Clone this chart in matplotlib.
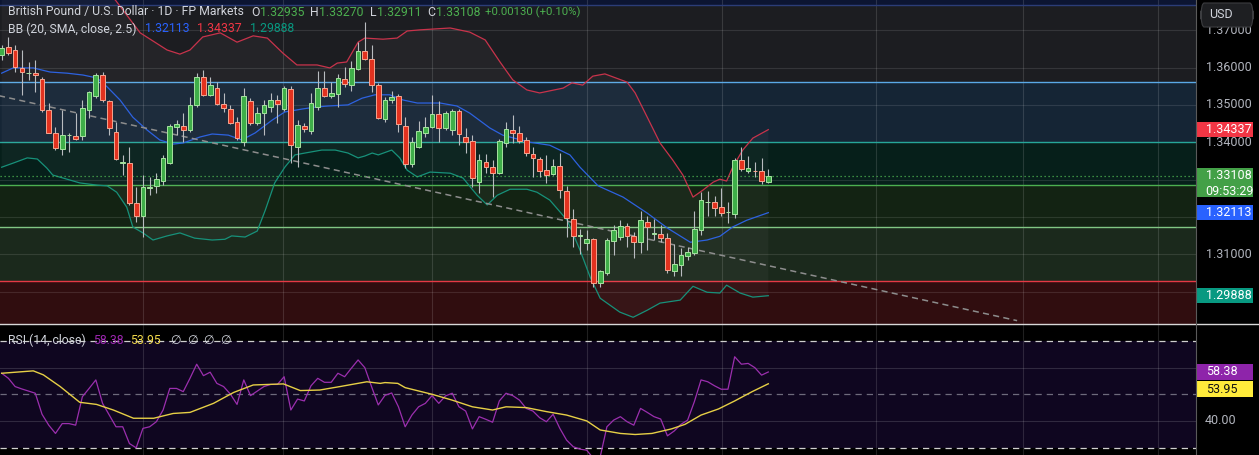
import numpy as np
import matplotlib
matplotlib.use("Agg")
import matplotlib.pyplot as plt
from matplotlib.patches import Rectangle, FancyBboxPatch
from matplotlib.lines import Line2D

plt.rcParams['font.family'] = ['Roboto', 'DejaVu Sans']

# GBP/USD daily candles
opens = [1.3634, 1.3655, 1.3647, 1.3599, 1.3585, 1.3585, 1.3569, 1.3486, 1.3425, 1.3382,
         1.3419, 1.3417, 1.3417, 1.3486, 1.3524, 1.3580, 1.3510, 1.3427, 1.3344, 1.3344,
         1.3237, 1.3202, 1.3277, 1.3283, 1.3296, 1.3344, 1.3441, 1.3443, 1.3433, 1.3500,
         1.3574, 1.3527, 1.3545, 1.3502, 1.3489, 1.3454, 1.3401, 1.3510, 1.3451, 1.3478,
         1.3494, 1.3513, 1.3489, 1.3543, 1.3387, 1.3443, 1.3430, 1.3494, 1.3545, 1.3524,
         1.3529, 1.3569, 1.3553, 1.3596, 1.3644, 1.3623, 1.3553, 1.3462, 1.3513, 1.3524,
         1.3443, 1.3341, 1.3387, 1.3425, 1.3441, 1.3476, 1.3438, 1.3433, 1.3484, 1.3414,
         1.3403, 1.3293, 1.3347, 1.3333, 1.3317, 1.3398, 1.3433, 1.3425, 1.3406, 1.3368,
         1.3355, 1.3325, 1.3315, 1.3336, 1.3269, 1.3194, 1.3149, 1.3130, 1.3141, 1.3023,
         1.3049, 1.3135, 1.3146, 1.3175, 1.3149, 1.3133, 1.3186, 1.3154, 1.3154, 1.3143,
         1.3055, 1.3071, 1.3095, 1.3103, 1.3165, 1.3240, 1.3240, 1.3226, 1.3213, 1.3207,
         1.3352, 1.3323, 1.3323, 1.3323, 1.32935]
highs = [1.3661, 1.3682, 1.3661, 1.3647, 1.3615, 1.3620, 1.3574, 1.3505, 1.3441, 1.3486,
         1.3425, 1.3478, 1.3513, 1.3537, 1.3585, 1.3588, 1.3513, 1.3454, 1.3366, 1.3387,
         1.3280, 1.3312, 1.3307, 1.3317, 1.3366, 1.3449, 1.3459, 1.3478, 1.3521, 1.3585,
         1.3593, 1.3574, 1.3561, 1.3532, 1.3500, 1.3467, 1.3545, 1.3518, 1.3494, 1.3513,
         1.3532, 1.3527, 1.3551, 1.3551, 1.3459, 1.3451, 1.3532, 1.3591, 1.3591, 1.3561,
         1.3583, 1.3601, 1.3617, 1.3668, 1.3722, 1.3661, 1.3559, 1.3521, 1.3537, 1.3529,
         1.3467, 1.3414, 1.3457, 1.3467, 1.3527, 1.3510, 1.3484, 1.3489, 1.3489, 1.3438,
         1.3419, 1.3368, 1.3368, 1.3352, 1.3409, 1.3454, 1.3473, 1.3443, 1.3414, 1.3387,
         1.3360, 1.3366, 1.3355, 1.3371, 1.3283, 1.3221, 1.3167, 1.3165, 1.3143, 1.3057,
         1.3143, 1.3178, 1.3191, 1.3183, 1.3159, 1.3215, 1.3202, 1.3194, 1.3178, 1.3157,
         1.3127, 1.3116, 1.3119, 1.3215, 1.3267, 1.3269, 1.3256, 1.3277, 1.3240, 1.3358,
         1.3387, 1.3363, 1.3347, 1.3358, 1.33270]
lows = [1.3620, 1.3634, 1.3588, 1.3527, 1.3567, 1.3535, 1.3481, 1.3424, 1.3379, 1.3366,
        1.3374, 1.3406, 1.3406, 1.3465, 1.3518, 1.3508, 1.3419, 1.3352, 1.3312, 1.3232,
        1.3186, 1.3146, 1.3258, 1.3264, 1.3285, 1.3342, 1.3419, 1.3401, 1.3427, 1.3494,
        1.3524, 1.3524, 1.3500, 1.3481, 1.3449, 1.3406, 1.3390, 1.3446, 1.3446, 1.3419,
        1.3481, 1.3451, 1.3484, 1.3344, 1.3333, 1.3427, 1.3422, 1.3486, 1.3521, 1.3518,
        1.3494, 1.3548, 1.3537, 1.3593, 1.3620, 1.3535, 1.3462, 1.3454, 1.3505, 1.3427,
        1.3331, 1.3333, 1.3384, 1.3414, 1.3438, 1.3401, 1.3433, 1.3419, 1.3392, 1.3371,
        1.3280, 1.3264, 1.3317, 1.3253, 1.3315, 1.3387, 1.3398, 1.3398, 1.3363, 1.3307,
        1.3307, 1.3291, 1.3312, 1.3250, 1.3146, 1.3119, 1.3100, 1.3111, 1.3012, 1.3012,
        1.3044, 1.3098, 1.3138, 1.3119, 1.3090, 1.3103, 1.3111, 1.3138, 1.3133, 1.3049,
        1.3041, 1.3041, 1.3084, 1.3098, 1.3151, 1.3202, 1.3202, 1.3202, 1.3183, 1.3197,
        1.3323, 1.3317, 1.3307, 1.3288, 1.32911]
closes = [1.3653, 1.3639, 1.3601, 1.3588, 1.3586, 1.3580, 1.3486, 1.3425, 1.3384, 1.3419,
          1.3420, 1.3409, 1.3492, 1.3535, 1.3580, 1.3513, 1.3438, 1.3355, 1.3347, 1.3237,
          1.3202, 1.3280, 1.3280, 1.3301, 1.3358, 1.3443, 1.3449, 1.3433, 1.3500, 1.3574,
          1.3527, 1.3553, 1.3502, 1.3492, 1.3451, 1.3411, 1.3524, 1.3451, 1.3478, 1.3500,
          1.3513, 1.3502, 1.3545, 1.3392, 1.3446, 1.3435, 1.3505, 1.3545, 1.3524, 1.3532,
          1.3572, 1.3556, 1.3599, 1.3644, 1.3623, 1.3553, 1.3465, 1.3513, 1.3521, 1.3449,
          1.3341, 1.3401, 1.3430, 1.3441, 1.3476, 1.3438, 1.3478, 1.3484, 1.3422, 1.3401,
          1.3304, 1.3352, 1.3333, 1.3317, 1.3403, 1.3435, 1.3425, 1.3403, 1.3371, 1.3358,
          1.3323, 1.3312, 1.3336, 1.3272, 1.3197, 1.3149, 1.3151, 1.3141, 1.3023, 1.3055,
          1.3138, 1.3165, 1.3175, 1.3149, 1.3133, 1.3191, 1.3173, 1.3156, 1.3143, 1.3057,
          1.3073, 1.3098, 1.3105, 1.3167, 1.3245, 1.3241, 1.3224, 1.3210, 1.3214, 1.3352,
          1.3328, 1.3331, 1.3322, 1.3296, 1.33108]

# Bollinger bands (20, 2.5) read as (bar index, price) points
bb_up_x = [0, 8, 14, 16.9, 20.6, 24.6, 26.5, 28.0, 29.9, 32.5, 35.0, 37.4, 39.5, 41.8, 43.9,
           46.9, 48.8, 49.9, 51.3, 53.0, 54.0, 56.7, 58.8, 60.3, 62.2, 66.7, 69.6, 71.9, 74.1,
           76.0, 78.1, 80.0, 83.5, 84.8, 86.4, 87.9, 89.7, 93.0, 94.2, 96.0, 97.9, 99.8, 101.3,
           102.8, 104.3, 105.8, 106.8, 107.8, 108.7, 110.2, 111.7, 114]
bb_up_y = [1.3840, 1.3850, 1.3815, 1.3781, 1.3693, 1.3647, 1.3636, 1.3647, 1.3682, 1.3693,
           1.3668, 1.3685, 1.3679, 1.3639, 1.3607, 1.3607, 1.3599, 1.3612, 1.3615, 1.3668,
           1.3679, 1.3676, 1.3679, 1.3698, 1.3701, 1.3706, 1.3695, 1.3674, 1.3615, 1.3567,
           1.3540, 1.3532, 1.3545, 1.3559, 1.3553, 1.3577, 1.3583, 1.3561, 1.3532, 1.3467,
           1.3398, 1.3352, 1.3312, 1.3253, 1.3272, 1.3293, 1.3301, 1.3296, 1.3333, 1.3379,
           1.3411, 1.34337]
bb_mid_x = [0, 1.7, 4.7, 7.2, 9.7, 12.1, 14.2, 15.7, 17.6, 19.5, 21.6, 23.5, 25.5, 27.0, 29.5,
            31.3, 33.7, 35.7, 37.7, 40.2, 42.1, 44.7, 46.6, 48.5, 51.5, 53.6, 55.5, 57.7, 59.7,
            61.8, 65.2, 67.7, 69.6, 72.6, 74.5, 78.5, 81.5, 84.5, 86.0, 88.7, 92.4, 96.0, 99.0,
            102.4, 104.9, 106.8, 108.7, 110.8, 114]
bb_mid_y = [1.3585, 1.3599, 1.3599, 1.3588, 1.3585, 1.3580, 1.3572, 1.3548, 1.3513, 1.3467,
            1.3433, 1.3406, 1.3395, 1.3398, 1.3414, 1.3422, 1.3419, 1.3406, 1.3425, 1.3459,
            1.3481, 1.3489, 1.3494, 1.3497, 1.3500, 1.3518, 1.3527, 1.3527, 1.3513, 1.3505,
            1.3505, 1.3497, 1.3478, 1.3438, 1.3419, 1.3400, 1.3392, 1.3366, 1.3333, 1.3283,
            1.3253, 1.3210, 1.3170, 1.3132, 1.3138, 1.3148, 1.3173, 1.3191, 1.32113]
bb_lo_x = [0, 1.7, 3.8, 5.3, 6.7, 7.6, 9.7, 11.6, 14.2, 15.7, 17.1, 18.6, 19.5, 21.0, 22.5,
           24.6, 26.5, 28.7, 31.3, 33.2, 34.2, 36.2, 38.0, 39.2, 40.6, 42.1, 43.6, 45.1, 47.6,
           49.6, 51.5, 53.0, 54.0, 55.1, 56.0, 58.0, 59.2, 60.3, 61.8, 63.7, 66.7, 68.6, 70.7,
           72.2, 73.7, 75.6, 78.1, 79.6, 81.5, 84.1, 86.0, 87.5, 89.0, 91.9, 93.9, 96.0, 97.9,
           100.9, 102.8, 104.9, 106.8, 107.8, 109.8, 111.7, 114]
bb_lo_y = [1.3333, 1.3344, 1.3358, 1.3355, 1.3331, 1.3312, 1.3301, 1.3291, 1.3285, 1.3283,
           1.3266, 1.3226, 1.3173, 1.3157, 1.3138, 1.3149, 1.3157, 1.3143, 1.3138, 1.3140,
           1.3149, 1.3146, 1.3162, 1.3218, 1.3291, 1.3333, 1.3366, 1.3371, 1.3379, 1.3379,
           1.3371, 1.3358, 1.3363, 1.3371, 1.3366, 1.3379, 1.3358, 1.3325, 1.3307, 1.3320,
           1.3317, 1.3304, 1.3258, 1.3232, 1.3258, 1.3274, 1.3274, 1.3266, 1.3245, 1.3191,
           1.3111, 1.3039, 1.2982, 1.2945, 1.2931, 1.2950, 1.2969, 1.2977, 1.3014, 1.2998,
           1.2996, 1.3017, 1.2996, 1.2985, 1.29888]

# RSI(14) and its moving average
rsi = [57.9, 56.0, 52.9, 52.0, 51.2, 50.4, 42.5, 38.4, 35.3, 39.0,
       39.0, 38.4, 49.1, 52.2, 55.4, 46.6, 42.2, 37.8, 37.8, 31.5,
       29.9, 37.2, 37.8, 39.7, 44.1, 52.2, 52.2, 51.0, 56.0, 61.3,
       57.0, 58.3, 54.1, 52.9, 50.1, 46.2, 55.4, 49.5, 51.2, 52.9,
       53.7, 53.7, 56.6, 44.1, 48.2, 47.5, 53.2, 56.0, 54.5, 54.5,
       57.9, 56.6, 59.8, 62.9, 60.0, 52.9, 46.0, 49.6, 50.5, 45.3,
       37.8, 42.2, 45.3, 46.6, 49.5, 46.6, 49.4, 50.4, 45.3, 43.7,
       37.0, 41.6, 40.6, 39.5, 47.5, 50.4, 49.5, 47.8, 44.7, 43.7,
       41.2, 39.7, 42.5, 37.2, 32.8, 30.3, 29.4, 29.0, 25.9, 26.5,
       37.8, 40.3, 41.6, 39.7, 38.4, 44.7, 43.2, 41.6, 40.7, 34.4,
       36.2, 38.7, 40.3, 47.2, 55.4, 54.7, 53.2, 51.9, 51.9, 64.1,
       61.3, 61.6, 60.0, 57.2, 58.38]
rsi_ma_x = [0, 4.7, 6.2, 8.7, 11.6, 14.1, 16.6, 19.6, 22.6, 25.5, 28, 31.5, 34.5, 37.4, 41.9,
            44.4, 47.3, 50.3, 54.3, 56.3, 57, 58.9, 60, 64, 67, 70, 73, 75, 78, 81, 84, 87,
            89, 92, 94.2, 96.7, 99.6, 101.6, 104, 106.6, 109, 111.6, 114]
rsi_ma_y = [57.9, 58.8, 57.3, 52.9, 47.0, 46.2, 44.1, 41.0, 41.0, 42.8, 43.2, 46.6, 50.7, 53.5,
            53.9, 51.4, 51.6, 52.9, 54.7, 54.1, 54.4, 54.1, 52.5, 50.0, 47.8, 45.3, 44.1, 45.3,
            45.0, 43.5, 42.2, 40.0, 36.6, 35.3, 34.9, 35.3, 37.0, 38.7, 42.2, 44.5, 47.5, 51.0,
            53.95]

# drawn levels (price zones) and trend line
levels = [1.3028, 1.3172, 1.3285, 1.3400, 1.3561, 1.3768]
level_colors = ['#e53945', '#81c784', '#4caf50', '#26a69a', '#5aa9e6', '#2b3d78']
zone_colors = ['#300d0f', '#1b291c', '#132313', '#061f1a', '#152535', '#1c1d21', '#0c1532']
trend_x = [-1, 151]
trend_y = [1.3527, 1.2922]
month_starts = [21.0, 41.8, 64.0, 87.0, 107.1, 130.0, 151.9, 172.0]
price_ticks = [1.30, 1.31, 1.32, 1.33, 1.34, 1.35, 1.36, 1.37]
rsi_ticks = [40, 60]
countdown = "09:53:29"

W, H = 1259, 455
split = 131
plot_w = 1196
fig = plt.figure(figsize=(W / 100, H / 100), dpi=100)
fig.patch.set_facecolor('black')
ax = fig.add_axes([0, split / H, plot_w / W, 1 - split / H])
axr = fig.add_axes([plot_w / W, split / H, 1 - plot_w / W, 1 - split / H])
ax2 = fig.add_axes([0, 0, plot_w / W, split / H])
ax2r = fig.add_axes([plot_w / W, 0, 1 - plot_w / W, split / H])
for a in (ax, axr, ax2, ax2r):
    a.set_xticks([])
    a.set_yticks([])
    for s in a.spines.values():
        s.set_visible(False)
    a.set_facecolor('black')

ymin, ymax = 1.2913, 1.3781
xmin, xmax = -0.25, 177.6
ax.set_xlim(xmin, xmax)
ax.set_ylim(ymin, ymax)
axr.set_xlim(0, W - plot_w)
axr.set_ylim(ymin, ymax)
px = (ymax - ymin) / (H - split)   # price per pixel

# zones
bounds = [1.28] + levels + [1.40]
for i, zc in enumerate(zone_colors):
    ax.axhspan(bounds[i], bounds[i + 1], color=zc, lw=0, zorder=0)
for lv, lc in zip(levels, level_colors):
    ax.axhline(lv, color=lc, lw=1.0, zorder=2)

for p in price_ticks:
    ax.axhline(p, color='white', alpha=0.11, lw=0.8, zorder=1)
for m in month_starts:
    ax.axvline(m, color='white', alpha=0.13, lw=0.8, zorder=1)

# bollinger fill + lines
poly_x = list(bb_up_x) + list(bb_lo_x[::-1])
poly_y = list(bb_up_y) + list(bb_lo_y[::-1])
ax.fill(poly_x, poly_y, color='white', alpha=0.035, lw=0, zorder=2)
ax.plot(bb_up_x, bb_up_y, color='#c8334b', lw=0.9, zorder=3)
ax.plot(bb_mid_x, bb_mid_y, color='#2d62e0', lw=0.9, zorder=3)
ax.plot(bb_lo_x, bb_lo_y, color='#17917a', lw=0.9, zorder=3)

ax.plot(trend_x, trend_y, color='#8d8d8d', lw=1.1, ls=(0, (4, 2.8)), zorder=3)
ax.axhline(closes[-1], color='#4caf50', lw=0.9, ls=(0, (1, 2.2)), zorder=4)

# candles
idx = np.arange(len(closes))
o, hi, lo, c = map(np.array, (opens, highs, lows, closes))
up = c >= o
ax.vlines(idx, lo, hi, color='#b9bcc0', lw=0.8, zorder=5)
body = np.maximum(np.abs(c - o), 0.00008)
bottom = np.minimum(o, c)
ax.bar(idx[up], body[up], bottom=bottom[up], width=0.7, color='#3fae49',
       edgecolor='#a6e3a0', lw=0.7, zorder=6)
ax.bar(idx[~up], body[~up], bottom=bottom[~up], width=0.7, color='#e2321f',
       edgecolor='#f6a48f', lw=0.7, zorder=6)

FS = 9.0


def tag(a, y, hgt, col, txt, tcol='white'):
    a.add_patch(Rectangle((1, y - hgt / 2), 56, hgt, color=col, lw=0, zorder=5))
    a.text(10, y, txt, color=tcol, fontsize=FS, va='center', ha='left', zorder=6)


# price axis: tags, then labels not buried under a tag
last = closes[-1]
main_tags = [(bb_up_y[-1], 15 * px, '#f23645'), (bb_mid_y[-1], 15 * px, '#2962ff'),
             (bb_lo_y[-1], 15 * px, '#089981')]
for y, hh, col in main_tags:
    tag(axr, y, hh, col, f"{y:.5f}")
axr.add_patch(Rectangle((1, last - 21.5 * px), 56, 29 * px, color='#43a047', lw=0, zorder=5))
axr.text(10, last, f"{last:.5f}", color='white', fontsize=FS, va='center', ha='left', zorder=6)
axr.text(9, last - 15.5 * px, countdown, color='white', fontsize=FS, va='center', ha='left', zorder=6)
covered = [(y - hh / 2 - 2 * px, y + hh / 2 + 2 * px) for y, hh, _ in main_tags]
covered.append((last - 21.5 * px, last + 7.5 * px))
for p in price_ticks:
    if any(lo_ - 3 * px < p < hi_ + 3 * px for lo_, hi_ in covered):
        continue
    axr.text(10, p, f"{p:.5f}", color='#b2b5be', fontsize=FS, va='center', ha='left', zorder=2)

axr.add_patch(FancyBboxPatch((5 / 63, 1 - 27 / 324), 52 / 63, 24 / 324,
                             boxstyle="round,pad=0,rounding_size=0.05", transform=axr.transAxes,
                             facecolor='#1e1f22', edgecolor='#3c3d40', lw=0.8, zorder=7))
axr.text(13 / 63, 1 - 15 / 324, "USD", transform=axr.transAxes, color='#d1d4dc',
         fontsize=FS, va='center', ha='left', zorder=8)

# RSI pane
rmin, rmax = 27.2, 76.4
ax2.set_xlim(xmin, xmax)
ax2.set_ylim(rmin, rmax)
ax2r.set_xlim(0, W - plot_w)
ax2r.set_ylim(rmin, rmax)
rpx = (rmax - rmin) / split
ax2.axhspan(30, 70, color='#0f0620', lw=0, zorder=0)
for r in rsi_ticks:
    ax2.axhline(r, color='white', alpha=0.14, lw=0.8, zorder=1)
for m in month_starts:
    ax2.axvline(m, color='white', alpha=0.13, lw=0.8, zorder=1)
ax2.axhline(70, color='#cfcfcf', lw=0.9, ls=(0, (5, 4)), zorder=2)
ax2.axhline(30, color='#cfcfcf', lw=0.9, ls=(0, (5, 4)), zorder=2)
ax2.axhline(50, color='#6e6a7c', lw=0.9, ls=(0, (5, 4)), zorder=2)
ax2.plot(idx, rsi, color='#9b2fae', lw=0.9, zorder=3)
ax2.plot(rsi_ma_x, rsi_ma_y, color='#e6cf46', lw=1.0, zorder=4)

t_h = 16 * rpx
tag(ax2r, rsi[-1], t_h, '#8e24aa', f"{rsi[-1]:.2f}")
y_ma = min(rsi_ma_y[-1], rsi[-1] - t_h - 1.5 * rpx)
tag(ax2r, y_ma, t_h, '#ffeb3b', f"{rsi_ma_y[-1]:.2f}", tcol='#131313')
for r in rsi_ticks:
    if abs(r - rsi[-1]) < t_h or abs(r - y_ma) < t_h:
        continue
    ax2r.text(9, r, f"{r:.2f}", color='#b2b5be', fontsize=FS, va='center', ha='left', zorder=2)

# separators
fig.add_artist(Line2D([0, 1], [split / H, split / H], color='#d8d8d8', lw=1.0))
fig.add_artist(Line2D([plot_w / W, plot_w / W], [0, 1], color='#5a5a5a', lw=0.8))

# legend rows
renderer = fig.canvas.get_renderer()
light = '#d1d4dc'
green = '#4caf50'


def text_row(y_px, pieces, size):
    x = 8
    for item in pieces:
        txt, col, gap = item[:3]
        sz = item[3] if len(item) > 3 else size
        x += gap
        t = fig.text(x / W, 1 - y_px / H, txt, color=col, fontsize=sz, va='center', ha='left')
        x = t.get_window_extent(renderer).x1


text_row(12, [("British Pound / U.S. Dollar · 1D · FP Markets", light, 0),
              ("O", light, 7), ("1.32935", green, 0.5),
              ("H", light, 6), ("1.33270", green, 0.5),
              ("L", light, 6), ("1.32911", green, 0.5),
              ("C", light, 6), ("1.33108", green, 0.5),
              ("+0.00130 (+0.10%)", green, 5, 8.2)], 8.8)
text_row(29, [("BB (20, SMA, close, 2.5)", light, 0),
              (f"{bb_mid_y[-1]:.5f}", '#2962ff', 8),
              (f"{bb_up_y[-1]:.5f}", '#f23645', 8),
              (f"{bb_lo_y[-1]:.5f}", '#089981', 8)], 8.8)
text_row(340, [("RSI (14, close)", light, 0),
               (f"{rsi[-1]:.2f}", '#9c27b0', 7),
               (f"{rsi_ma_y[-1]:.2f}", '#f0d84a', 7),
               ("∅", light, 9), ("∅", light, 6), ("∅", light, 6), ("∅", light, 6)], 8.8)

fig.savefig("out.png", dpi=100, facecolor=fig.get_facecolor())
